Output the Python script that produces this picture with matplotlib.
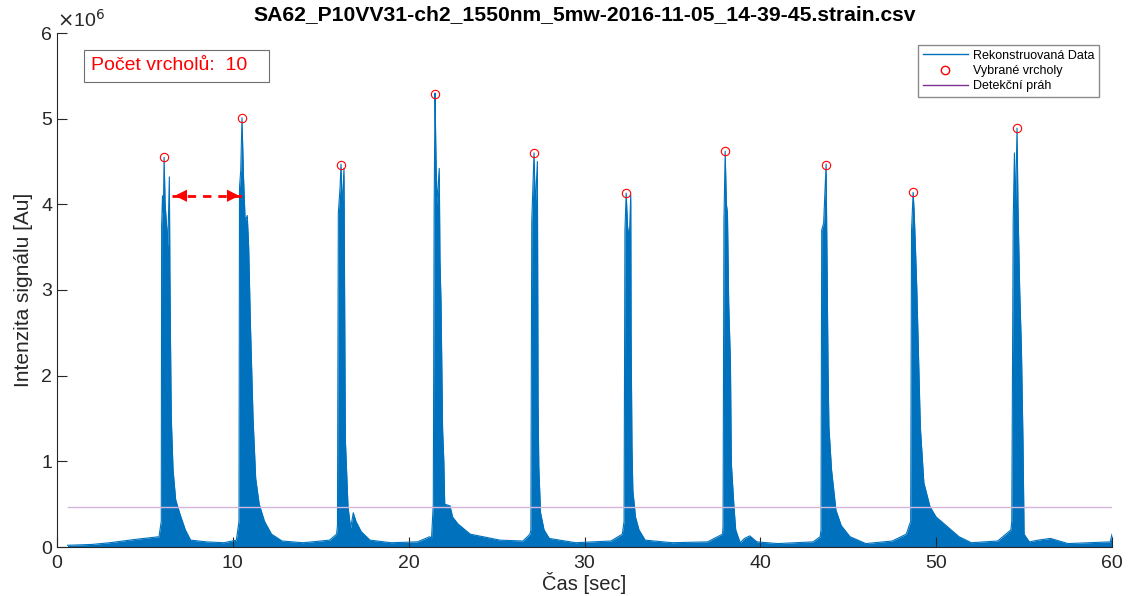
import numpy as np
import matplotlib.pyplot as plt
from matplotlib.lines import Line2D
from matplotlib.patches import Rectangle

plt.rcParams['font.family'] = ['Liberation Sans', 'DejaVu Sans']

# envelope of the reconstructed signal (time s, intensity x1e6)
trace_t = [0.6, 2.0, 3.0, 4.5, 5.8, 5.93,
           5.95, 6.0, 6.05, 6.09, 6.15, 6.25, 6.3, 6.39, 6.42, 6.45, 6.5, 6.6, 6.75, 7.0, 7.3, 7.6, 8.5, 9.5, 10.2,
           10.35, 10.38, 10.45, 10.52, 10.6, 10.7, 10.82, 10.9, 11.0, 11.15, 11.3, 11.5, 11.8, 12.2, 12.8, 14.0, 15.5, 15.9,
           15.95, 16.0, 16.1, 16.15, 16.22, 16.32, 16.36, 16.4, 16.55, 16.7, 16.85, 17.0, 17.3, 17.8, 19.0, 20.5, 21.2,
           21.3, 21.4, 21.45, 21.5, 21.54, 21.6, 21.74, 21.78, 21.84, 21.93, 22.0, 22.05, 22.35, 22.5, 22.8, 23.5, 25.2, 26.5, 26.9,
           26.95, 27.0, 27.13, 27.2, 27.32, 27.34, 27.36, 27.4, 27.5, 27.7, 28.0, 29.5, 31.5, 32.15,
           32.25, 32.3, 32.37, 32.45, 32.55, 32.63, 32.65, 32.7, 32.75, 32.9, 33.1, 33.45, 35.0, 37.0, 37.85,
           37.88, 37.93, 38.0, 38.07, 38.13, 38.2, 38.3, 38.35, 38.5, 38.6, 38.85, 39.1, 39.4, 39.8, 41.0, 43.0, 43.4,
           43.45, 43.49, 43.6, 43.74, 43.78, 43.85, 43.9, 44.05, 44.3, 44.6, 45.1, 46.0, 47.5, 48.3,
           48.55, 48.6, 48.69, 48.75, 48.82, 48.9, 49.0, 49.1, 49.3, 49.65, 50.0, 50.4, 51.3, 52.0, 53.5, 54.25,
           54.3, 54.38, 54.45, 54.5, 54.6, 54.65, 54.75, 54.85, 54.94, 55.0, 55.3, 55.8, 56.5, 57.5, 59.9, 60.0]
trace_y = [0.02, 0.03, 0.05, 0.09, 0.12, 0.3,
           3.75, 4.1, 3.9, 4.55, 4.0, 3.7, 3.5, 4.32, 3.2, 2.5, 1.5, 0.9, 0.55, 0.38, 0.2, 0.08, 0.06, 0.05, 0.08,
           0.3, 4.2, 4.4, 5.01, 4.36, 3.8, 3.87, 3.5, 2.6, 1.5, 0.8, 0.5, 0.3, 0.15, 0.07, 0.05, 0.08, 0.15,
           0.25, 3.9, 4.2, 4.47, 3.95, 4.42, 2.8, 1.25, 0.47, 0.22, 0.4, 0.3, 0.18, 0.08, 0.05, 0.06, 0.12,
           0.1, 0.5, 4.0, 5.30, 4.72, 4.0, 4.42, 3.35, 2.85, 1.37, 1.0, 0.5, 0.48, 0.35, 0.27, 0.15, 0.08, 0.07, 0.15,
           0.2, 3.8, 4.60, 3.97, 4.5, 3.0, 1.7, 0.94, 0.4, 0.2, 0.1, 0.05, 0.07, 0.15,
           0.3, 3.7, 4.13, 3.74, 3.6, 4.11, 2.5, 1.17, 0.66, 0.35, 0.2, 0.08, 0.05, 0.06, 0.15,
           0.25, 3.8, 4.62, 4.0, 3.9, 2.85, 2.15, 0.98, 0.47, 0.2, 0.05, 0.1, 0.13, 0.06, 0.04, 0.06, 0.12,
           0.2, 3.7, 3.78, 4.47, 3.6, 2.1, 1.4, 0.9, 0.43, 0.25, 0.12, 0.04, 0.07, 0.15,
           0.3, 3.7, 4.14, 3.9, 3.5, 3.0, 2.2, 1.4, 0.75, 0.47, 0.35, 0.28, 0.12, 0.05, 0.07, 0.2,
           0.3, 3.8, 4.6, 3.9, 4.89, 4.0, 3.0, 2.3, 1.2, 0.15, 0.06, 0.08, 0.1, 0.04, 0.06, 0.15]

peak_t = [6.09, 10.52, 16.15, 21.50, 27.13, 32.37, 38.00, 43.74, 48.69, 54.60]
peak_y = [4.55, 5.01, 4.46, 5.29, 4.60, 4.13, 4.62, 4.46, 4.14, 4.89]

threshold = 0.467
threshold_span = [0.6, 60.0]
arrow_t = [6.54, 10.52]
arrow_y = 4.10

t = np.array(trace_t)
y = np.array(trace_y) * 1e6

fig = plt.figure(figsize=(11.37, 5.96), dpi=100)
ax = fig.add_axes([57/1137, 1 - 547/596, 1055/1137, 514/596])

blue = '#0072BD'
ax.fill_between(t, 0, y, color=blue, lw=0)
ax.plot(t, y, color=blue, lw=0.8)
ax.plot(threshold_span, [threshold * 1e6] * 2, color='#D4B6DD', lw=1)
ax.plot(peak_t, np.array(peak_y) * 1e6, 'o', mfc='none', mec='red', ms=6, mew=0.8)

# dashed double arrow between first two peaks
ay = arrow_y * 1e6
ax.plot(arrow_t, [ay, ay], color='red', lw=2, ls=(0, (3, 2.5)))
ax.annotate('', xy=(arrow_t[0], ay), xytext=(arrow_t[0] + 0.6, ay),
            arrowprops=dict(arrowstyle='-|>', color='red', lw=0, mutation_scale=22))
ax.annotate('', xy=(arrow_t[1], ay), xytext=(arrow_t[1] - 0.6, ay),
            arrowprops=dict(arrowstyle='-|>', color='red', lw=0, mutation_scale=22))

ax.set_xlim(0, 60)
ax.set_ylim(0, 6e6)
ax.set_xticks([0, 10, 20, 30, 40, 50, 60])
ax.set_yticks(np.arange(0, 7) * 1e6)
ax.set_yticklabels([str(i) for i in range(7)])
for s in ['top', 'right']:
    ax.spines[s].set_visible(False)
for s in ['left', 'bottom']:
    ax.spines[s].set_color('#262626')
    ax.spines[s].set_linewidth(0.8)
ax.tick_params(direction='in', length=7, colors='#262626', labelsize=14, width=0.8)
ax.tick_params(axis='x', pad=6)

ax.text(0, 1.005, r'$\times$10$^6$', transform=ax.transAxes, fontsize=14,
        color='#262626', ha='left', va='bottom')
ax.set_xlabel('Čas [sec]', fontsize=14.5, color='#262626', labelpad=0)
ax.set_ylabel('Intenzita signálu [Au]', fontsize=15, color='#262626', labelpad=6)
ax.set_title('SA62_P10VV31-ch2_1550nm_5mw-2016-11-05_14-39-45.strain.csv',
             fontsize=15.2, fontweight='bold', pad=9)

# peak count box
ax.add_patch(Rectangle(((84 - 57) / 1055, (547 - 82) / 514), 185 / 1055, 32 / 514,
                       transform=ax.transAxes, fc='white', ec='#6e6e6e', lw=0.8))
ax.text((91 - 57) / 1055, (547 - 66) / 514, 'Počet vrcholů:  10', transform=ax.transAxes,
        fontsize=14, color='red', va='center', ha='left')

handles = [Line2D([], [], color=blue, lw=1),
           Line2D([], [], ls='none', marker='o', mfc='none', mec='red', ms=6),
           Line2D([], [], color='#7E2F8E', lw=1)]
ax.legend(handles, ['Rekonstruovaná Data', 'Vybrané vrcholy', 'Detekční práh'],
          loc='upper right', bbox_to_anchor=(0.988, 0.977), borderaxespad=0,
          fontsize=9, frameon=True, fancybox=False, edgecolor='#6e6e6e',
          handlelength=3.6, borderpad=0.4, labelspacing=0.25, handletextpad=0.4)

fig.savefig('out.png', dpi=100)
